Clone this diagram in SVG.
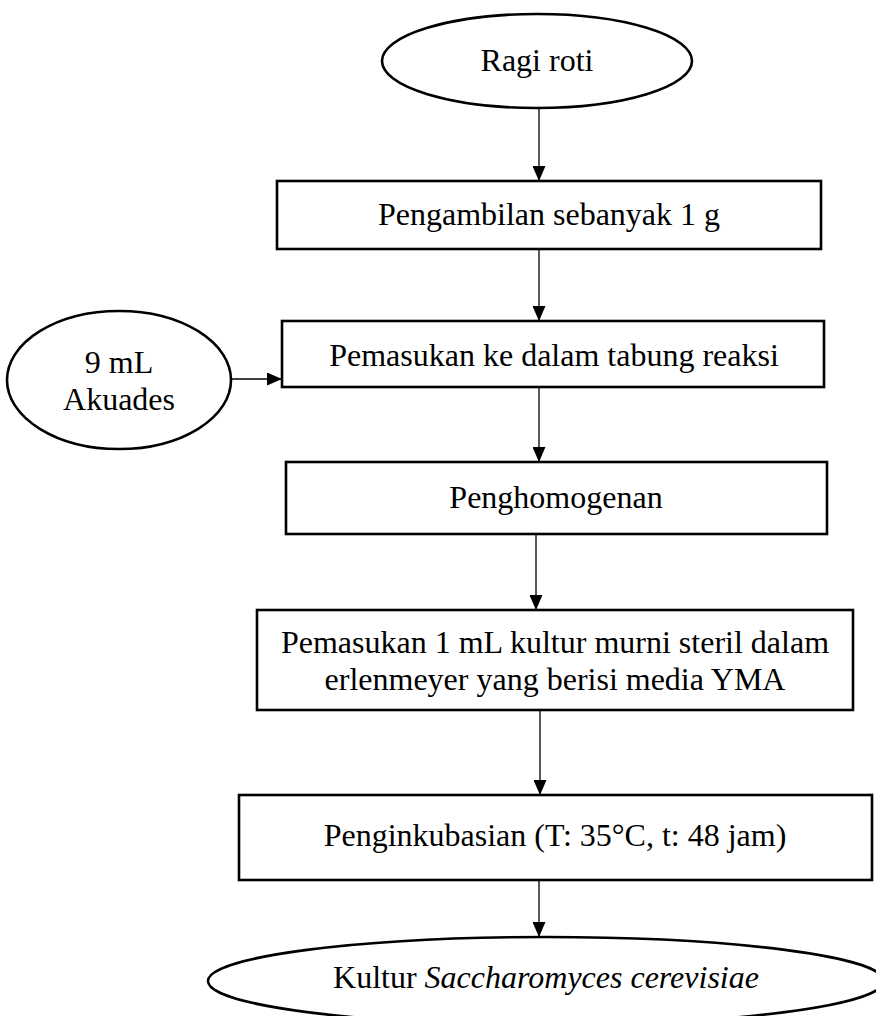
<svg xmlns="http://www.w3.org/2000/svg" width="876" height="1016" viewBox="0 0 876 1016">
<style>
.shape{fill:#fff;stroke:#000;stroke-width:2.6}
.t{font-family:"Liberation Serif","Times New Roman",serif;font-size:32px;fill:#000;text-anchor:middle}
.c{stroke:#000;stroke-width:1.3;fill:none;marker-end:url(#ah)}
</style>
<defs>
<marker id="ah" viewBox="0 0 15 13" refX="15" refY="6.5" markerWidth="15" markerHeight="13" markerUnits="userSpaceOnUse" orient="auto">
<path d="M0,0 L15,6.5 L0,13 Z" fill="#000"/>
</marker>
</defs>
<rect width="876" height="1016" fill="#fff"/>
<g id="connectors">
<line class="c" x1="539" y1="108" x2="539" y2="181"/>
<line class="c" x1="539" y1="249" x2="539" y2="321"/>
<line class="c" x1="231" y1="379" x2="282" y2="379"/>
<line class="c" x1="539" y1="387" x2="539" y2="462"/>
<line class="c" x1="536" y1="534" x2="536" y2="610"/>
<line class="c" x1="540" y1="710" x2="540" y2="795"/>
<line class="c" x1="539" y1="880" x2="539" y2="937"/>
</g>
<g id="n1"><ellipse class="shape" cx="537" cy="61" rx="155" ry="47"/><text class="t" x="537" y="71">Ragi roti</text></g>
<g id="n2"><rect class="shape" x="277" y="181" width="544" height="68"/><text class="t" x="549" y="225">Pengambilan sebanyak 1 g</text></g>
<g id="n3"><rect class="shape" x="282" y="321" width="542" height="66"/><text class="t" x="554" y="366">Pemasukan ke dalam tabung reaksi</text></g>
<g id="n4"><ellipse class="shape" cx="119" cy="380" rx="112" ry="69"/><text class="t" x="119" y="373">9 mL</text><text class="t" x="119" y="410">Akuades</text></g>
<g id="n5"><rect class="shape" x="286" y="462" width="541" height="72"/><text class="t" x="556" y="508">Penghomogenan</text></g>
<g id="n6"><rect class="shape" x="257" y="610" width="596" height="100"/><text class="t" x="555" y="653">Pemasukan 1 mL kultur murni steril dalam</text><text class="t" x="555" y="690">erlenmeyer yang berisi media YMA</text></g>
<g id="n7"><rect class="shape" x="239" y="795" width="633" height="85"/><text class="t" x="555" y="846">Penginkubasian (T: 35°C, t: 48 jam)</text></g>
<g id="n8"><ellipse class="shape" cx="546" cy="981" rx="338" ry="44"/><text class="t" x="546" y="988">Kultur <tspan font-style="italic">Saccharomyces cerevisiae</tspan></text></g>
</svg>
